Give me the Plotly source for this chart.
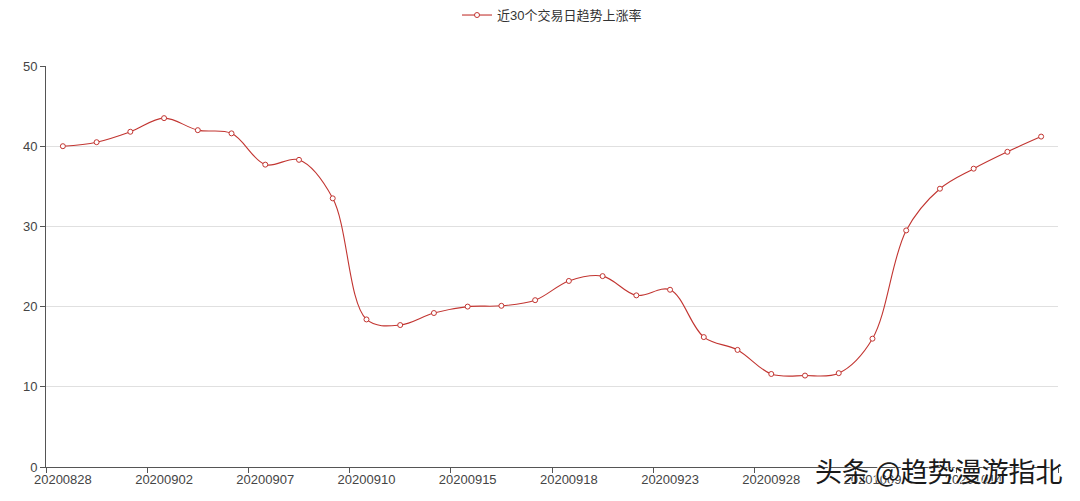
import plotly.graph_objects as go

dates = [
    "20200828", "20200831", "20200901", "20200902", "20200903", "20200904",
    "20200907", "20200908", "20200909", "20200910", "20200911", "20200914",
    "20200915", "20200916", "20200917", "20200918", "20200921", "20200922",
    "20200923", "20200924", "20200925", "20200928", "20200929", "20200930",
    "20201009", "20201012", "20201013", "20201014", "20201015", "20201016",
]
rise_rate = [
    40.0, 40.5, 41.8, 43.5, 42.0, 41.6, 37.7, 38.3, 33.5, 18.4,
    17.7, 19.2, 20.0, 20.1, 20.8, 23.2, 23.8, 21.4, 22.1, 16.2,
    14.6, 11.6, 11.4, 11.7, 16.0, 29.5, 34.7, 37.2, 39.3, 41.2,
]
series_name = "近30个交易日趋势上涨率"
watermark = "头条 @趋势漫游指北"

red = "#c23531"
font = "Liberation Sans, Noto Sans CJK SC"
cjk = "Noto Sans CJK SC"

fig = go.Figure()
fig.add_trace(go.Scatter(
    x=dates, y=rise_rate, name=series_name, mode="lines+markers",
    line=dict(color=red, width=1.1, shape="spline", smoothing=1.0),
    marker=dict(symbol="circle", size=5, color="white", line=dict(color=red, width=1)),
))

# the page puts the figure 8px in from the top-left corner, margins allow for it
fig.update_layout(
    width=1080, height=501,
    margin=dict(l=38, r=30, t=58, b=42, autoexpand=False),
    plot_bgcolor="white", paper_bgcolor="white",
    font=dict(family=font, size=13, color="#444"),
    showlegend=True,
    legend=dict(orientation="h", x=0.5, xanchor="center", y=1.127, yanchor="middle",
                font=dict(family=font, size=13, color="#333"), itemwidth=30),
    xaxis=dict(
        type="category", range=[-0.5, len(dates) - 0.5],
        tickmode="linear", tick0=0, dtick=3, tickangle=0, automargin=False,
        tickson="boundaries", ticks="outside", ticklen=5, tickcolor="#555",
        showline=True, linecolor="#555", linewidth=1, showgrid=False,
        tickfont=dict(size=13, color="#444"),
    ),
    yaxis=dict(
        range=[0, 50], dtick=10, ticks="outside", ticklen=5, tickcolor="#555",
        showline=True, linecolor="#555", linewidth=1, automargin=False,
        showgrid=True, gridcolor="#e0e0e0", zeroline=False,
        tickfont=dict(size=13, color="#444"),
    ),
    annotations=[dict(
        text=watermark, xref="paper", yref="paper", x=1.007, y=-0.008,
        xanchor="right", yanchor="middle", showarrow=False,
        font=dict(family=cjk, size=27, color="#1a1a1a", shadow="-1px -1px 0px white"),
    )],
)

fig.write_html("out.html")
